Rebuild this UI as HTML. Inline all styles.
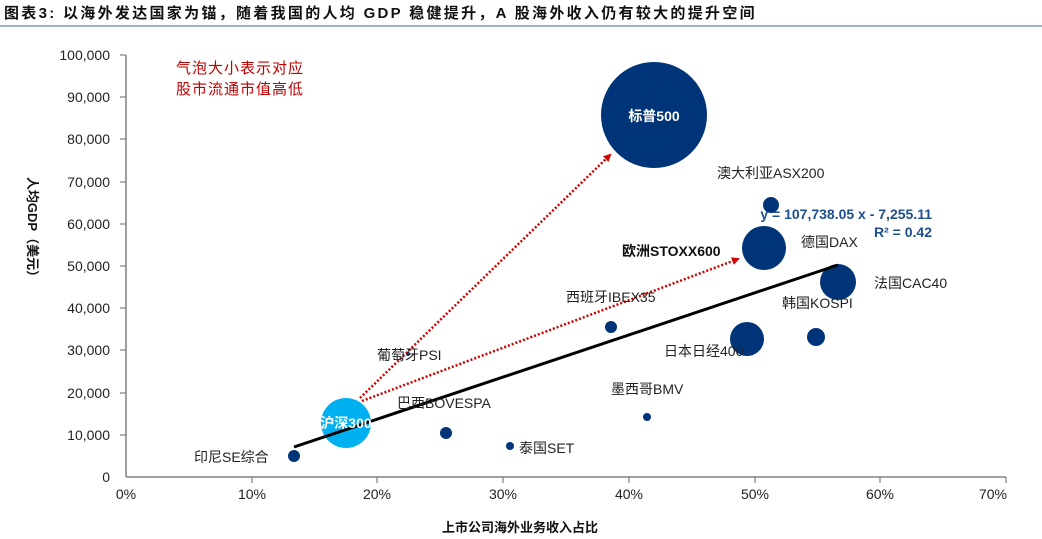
<!DOCTYPE html><html><head><meta charset="utf-8"><style>body{margin:0;background:#fff}svg{display:block}text{font-family:"Liberation Sans","Noto Sans CJK SC",sans-serif}</style></head><body>
<svg width="1042" height="539" viewBox="0 0 1042 539">
<defs><marker id="ah" markerWidth="8" markerHeight="8" refX="6" refY="4" orient="auto" markerUnits="userSpaceOnUse"><path d="M0,0 L8,4 L0,8z" fill="#d00000"/></marker></defs>
<text x="4" y="18" font-size="15" font-weight="bold" fill="#111" letter-spacing="2.3">图表3:  以海外发达国家为锚，随着我国的人均 GDP 稳健提升，A 股海外收入仍有较大的提升空间</text>
<line x1="0" y1="26" x2="1042" y2="26" stroke="#7f9cb8" stroke-width="1.5"/>
<g stroke="#808080" stroke-width="1.5" fill="none">
<line x1="126" y1="55" x2="126" y2="477"/><line x1="126" y1="477" x2="1006" y2="477"/>
</g>
<g stroke="#808080" stroke-width="1.2">
<line x1="120" y1="55" x2="126" y2="55"/><line x1="120" y1="97" x2="126" y2="97"/><line x1="120" y1="139" x2="126" y2="139"/><line x1="120" y1="182" x2="126" y2="182"/><line x1="120" y1="224" x2="126" y2="224"/><line x1="120" y1="266" x2="126" y2="266"/><line x1="120" y1="308" x2="126" y2="308"/><line x1="120" y1="350" x2="126" y2="350"/><line x1="120" y1="393" x2="126" y2="393"/><line x1="120" y1="435" x2="126" y2="435"/>
<line x1="252" y1="477" x2="252" y2="483"/><line x1="377" y1="477" x2="377" y2="483"/><line x1="503" y1="477" x2="503" y2="483"/><line x1="629" y1="477" x2="629" y2="483"/><line x1="755" y1="477" x2="755" y2="483"/><line x1="880" y1="477" x2="880" y2="483"/><line x1="1006" y1="477" x2="1006" y2="483"/>
</g>
<g font-size="14" fill="#222" text-anchor="end">
<text x="110" y="60">100,000</text><text x="110" y="102">90,000</text><text x="110" y="144">80,000</text><text x="110" y="187">70,000</text><text x="110" y="229">60,000</text><text x="110" y="271">50,000</text><text x="110" y="313">40,000</text><text x="110" y="355">30,000</text><text x="110" y="398">20,000</text><text x="110" y="440">10,000</text><text x="110" y="482">0</text>
</g>
<g font-size="14" fill="#222" text-anchor="middle">
<text x="126" y="499">0%</text><text x="252" y="499">10%</text><text x="377" y="499">20%</text><text x="503" y="499">30%</text><text x="629" y="499">40%</text><text x="755" y="499">50%</text><text x="880" y="499">60%</text><text x="993" y="499">70%</text>
</g>
<text x="520" y="532" font-size="13" font-weight="bold" text-anchor="middle" fill="#111">上市公司海外业务收入占比</text>
<text transform="translate(28,230) rotate(90)" font-size="13" font-weight="bold" text-anchor="middle" fill="#111">人均GDP（美元）</text>
<text x="240" y="73" font-size="15" fill="#c00000" text-anchor="middle" letter-spacing="1">气泡大小表示对应</text>
<text x="240" y="94" font-size="15" fill="#c00000" text-anchor="middle" letter-spacing="1">股市流通市值高低</text>
<g fill="#003478">
<circle cx="654" cy="115" r="53"/><circle cx="771" cy="205" r="8"/><circle cx="764" cy="248" r="22"/><circle cx="838" cy="282" r="18"/><circle cx="816" cy="337" r="9"/><circle cx="747" cy="339" r="17"/><circle cx="611" cy="327" r="6"/><circle cx="647" cy="417" r="4"/><circle cx="510" cy="446" r="4"/><circle cx="446" cy="433" r="6"/><circle cx="294" cy="456" r="6"/><circle cx="408" cy="354" r="2"/>
</g>
<circle cx="346" cy="423" r="25" fill="#00b0f0"/>
<line x1="294" y1="447" x2="838" y2="265" stroke="#000" stroke-width="3"/>
<g stroke="#d00000" stroke-width="2.5" stroke-dasharray="2,2" fill="none">
<line x1="360" y1="398" x2="610" y2="155" marker-end="url(#ah)"/>
<line x1="362" y1="401" x2="738" y2="259" marker-end="url(#ah)"/>
</g>
<text x="654" y="121" font-size="14" font-weight="bold" fill="#fff" text-anchor="middle">标普500</text>
<text x="346" y="428" font-size="14" font-weight="bold" fill="#fff" text-anchor="middle">沪深300</text>
<g font-size="14" fill="#222">
<text x="717" y="178">澳大利亚ASX200</text>
<text x="801" y="247">德国DAX</text>
<text x="622" y="256" font-weight="bold" fill="#111">欧洲STOXX600</text>
<text x="874" y="288">法国CAC40</text>
<text x="782" y="308">韩国KOSPI</text>
<text x="566" y="302">西班牙IBEX35</text>
<text x="664" y="356">日本日经400</text>
<text x="611" y="394">墨西哥BMV</text>
<text x="377" y="360">葡萄牙PSI</text>
<text x="397" y="408">巴西BOVESPA</text>
<text x="519" y="453">泰国SET</text>
<text x="194" y="462">印尼SE综合</text>
</g>
<text x="932" y="219" font-size="14" font-weight="bold" fill="#1f4e8c" text-anchor="end">y = 107,738.05 x - 7,255.11</text>
<text x="932" y="237" font-size="14" font-weight="bold" fill="#1f4e8c" text-anchor="end">R² = 0.42</text>
</svg></body></html>
